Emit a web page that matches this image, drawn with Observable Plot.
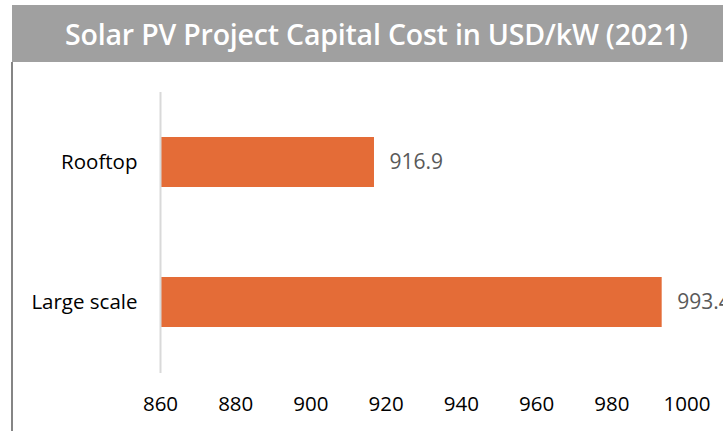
<!DOCTYPE html>
<html>
<head>
<meta charset="utf-8">
<script src="https://cdn.jsdelivr.net/npm/d3@7"></script>
<script src="https://cdn.jsdelivr.net/npm/@observablehq/plot@0.6"></script>
<style>
  html, body { margin: 0; padding: 0; background: #fff; overflow: hidden; width: 723px; height: 431px; }
  #page { position: relative; width: 723px; height: 431px; overflow: hidden; font-family: "Open Sans", sans-serif; }
  #titlebar { position: absolute; left: 12px; top: 5px; width: 720px; height: 57px; background: #a0a0a0; }
  #title { position: absolute; left: 364.5px; top: 1px; height: 57px; line-height: 57px; transform: translateX(-50%); white-space: nowrap;
           color: #fff; font-size: 28.5px; font-weight: 600; letter-spacing: -0.2px; }
  #leftline { position: absolute; left: 11px; top: 62px; width: 2px; height: 369px; background: #858585; }
  #chart { position: absolute; left: 0; top: 62px; }
</style>
</head>
<body>
<div id="page">
  <div id="titlebar"><span id="title">Solar PV Project Capital Cost in USD/kW (2021)</span></div>
  <div id="leftline"></div>
  <div id="chart"></div>
</div>
<script>
const categories = ["Rooftop", "Large scale"];
const values = [916.9, 993.4];
const xTicks = [860, 880, 900, 920, 940, 960, 980, 1000];
const xDomain = [860, 1000];

const data = categories.map((c, i) => ({category: c, value: values[i]}));

const chart = Plot.plot({
  width: 723,
  height: 369,
  marginLeft: 160,
  marginRight: 36.5,
  marginTop: 30,
  marginBottom: 58,
  style: {fontFamily: "Open Sans, sans-serif", color: "#000", background: "transparent", overflow: "visible"},
  x: {domain: xDomain, ticks: xTicks},
  y: {domain: categories, paddingInner: 0.64, paddingOuter: 0.32},
  marks: [
    Plot.barX(data, {x1: xDomain[0], x2: "value", y: "category", fill: "#E46C37"}),
    Plot.ruleX([xDomain[0]], {stroke: "#d9d9d9", strokeWidth: 2}),
    Plot.text(data, {x: "value", y: "category", text: d => d.value.toFixed(1), dx: 15, textAnchor: "start", fill: "#595959", fontSize: 21}),
    Plot.axisX({ticks: xTicks, tickSize: 0, tickPadding: 23, fontSize: 20.5, label: null, tickFormat: d => String(d)}),
    Plot.axisY({tickSize: 0, tickPadding: 23, fontSize: 20.5, label: null})
  ]
});
document.getElementById("chart").appendChild(chart);
</script>
</body>
</html>
